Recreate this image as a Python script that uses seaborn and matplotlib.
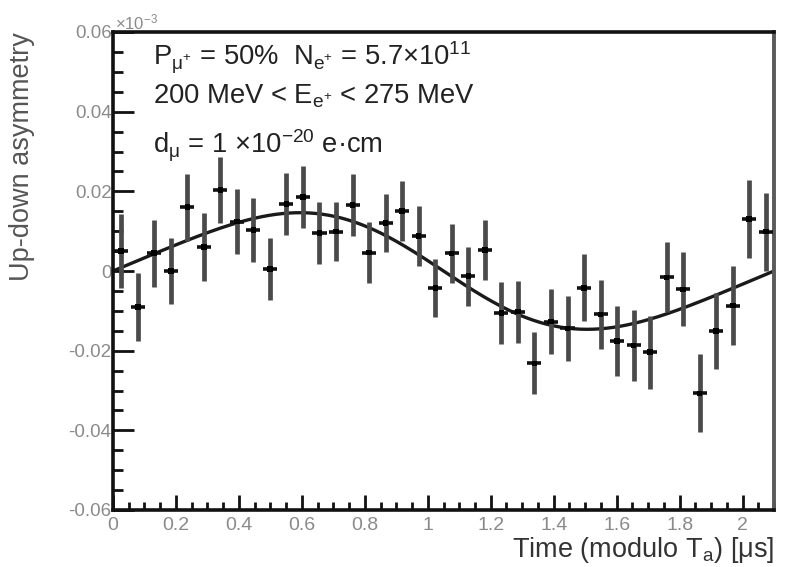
import numpy as np
import pandas as pd
import matplotlib
matplotlib.use("Agg")
import matplotlib.pyplot as plt
import seaborn as sns
from matplotlib.ticker import MultipleLocator

# ---- data ----
time_us = [0.026, 0.079, 0.131, 0.184, 0.236, 0.289, 0.341, 0.394, 0.446, 0.499,
           0.551, 0.604, 0.656, 0.709, 0.761, 0.814, 0.866, 0.919, 0.971, 1.024,
           1.076, 1.129, 1.181, 1.234, 1.286, 1.339, 1.391, 1.444, 1.496, 1.549,
           1.601, 1.654, 1.706, 1.759, 1.811, 1.864, 1.916, 1.969, 2.021, 2.074]
asym = [0.005, -0.009, 0.0045, 0.0, 0.016, 0.006, 0.0203, 0.0124, 0.0103, 0.0005,
        0.0168, 0.0186, 0.0095, 0.0099, 0.0166, 0.0046, 0.012, 0.0151, 0.0088, -0.0043,
        0.0044, -0.0013, 0.0053, -0.0106, -0.0102, -0.0232, -0.0127, -0.0144, -0.0042, -0.0109,
        -0.0176, -0.0187, -0.0204, -0.0016, -0.0046, -0.0307, -0.015, -0.0087, 0.0131, 0.0099]
asym_err = [0.0093, 0.0086, 0.0084, 0.0084, 0.0084, 0.0086, 0.0082, 0.0082, 0.0080, 0.0078,
            0.0078, 0.0078, 0.0078, 0.0075, 0.0077, 0.0076, 0.0073, 0.0075, 0.0075, 0.0073,
            0.0073, 0.0074, 0.0076, 0.0078, 0.0078, 0.0078, 0.0082, 0.0082, 0.0084, 0.0087,
            0.0088, 0.0088, 0.0091, 0.0088, 0.0093, 0.0098, 0.0095, 0.0100, 0.0098, 0.0098]
bin_half_width = 0.02625

# fitted oscillation parameters (fundamental + small second harmonic)
fit_amp_1 = 0.0143
fit_amp_2 = -0.0016
fit_period = 2.1

x_min, x_max = 0.0, 2.1
y_min, y_max = -0.06, 0.06
x_ticks = [0, 0.2, 0.4, 0.6, 0.8, 1.0, 1.2, 1.4, 1.6, 1.8, 2.0]
x_tick_labels = ["0", "0.2", "0.4", "0.6", "0.8", "1", "1.2", "1.4", "1.6", "1.8", "2"]
y_ticks = [-0.06, -0.04, -0.02, 0, 0.02, 0.04, 0.06]
y_tick_labels = ["-0.06", "-0.04", "-0.02", "0", "0.02", "0.04", "0.06"]

# ---- style ----
sns.set_theme(style="white")
plt.rcParams["font.family"] = ["Liberation Sans", "DejaVu Sans"]
plt.rcParams["mathtext.fontset"] = "custom"
plt.rcParams["mathtext.rm"] = "Liberation Sans"
plt.rcParams["mathtext.it"] = "Liberation Sans:italic"
plt.rcParams["mathtext.bf"] = "Liberation Sans:bold"
plt.rcParams["axes.unicode_minus"] = False

fig = plt.figure(figsize=(7.89, 5.67), dpi=100)
ax = fig.add_axes([113 / 789, 1 - 510 / 567, (774 - 113) / 789, (510 - 32) / 567])

# fit curve
curve_t = np.linspace(x_min, x_max, 400)
omega = 2 * np.pi / fit_period
curve_df = pd.DataFrame({"t": curve_t,
                         "a": fit_amp_1 * np.sin(omega * curve_t) + fit_amp_2 * np.sin(2 * omega * curve_t)})
sns.lineplot(data=curve_df, x="t", y="a", ax=ax, color="#1a1a1a", linewidth=2.4, zorder=2)

# data points
df = pd.DataFrame({"t": time_us, "a": asym, "e": asym_err})
ax.errorbar(df["t"], df["a"], yerr=df["e"], fmt="none", ecolor="#4a4a4a",
            elinewidth=3.4, capsize=0, zorder=3)
ax.errorbar(df["t"], df["a"], xerr=bin_half_width * 0.85, fmt="none", ecolor="#111111",
            elinewidth=2.6, capsize=0, zorder=4)
sns.scatterplot(data=df, x="t", y="a", ax=ax, marker="s", s=16, color="#000000",
                edgecolor="none", zorder=5)

ax.set_xlim(x_min, x_max)
ax.set_ylim(y_min, y_max)

ax.set_xticks(x_ticks)
ax.set_xticklabels(x_tick_labels)
ax.set_yticks(y_ticks)
ax.set_yticklabels(y_tick_labels)
ax.xaxis.set_minor_locator(MultipleLocator(0.05))
ax.yaxis.set_minor_locator(MultipleLocator(0.005))

ax.tick_params(axis="y", which="major", direction="in", length=15, width=2.0,
               color="#111111", labelsize=13.5, labelcolor="#8a8a8a", pad=1, left=True, right=False)
ax.tick_params(axis="y", which="minor", direction="in", length=7, width=2.0,
               color="#111111", left=True, right=False)
ax.tick_params(axis="x", which="major", direction="in", length=11, width=2.0,
               color="#111111", labelsize=14, labelcolor="#8a8a8a", pad=5, bottom=True, top=False)
ax.tick_params(axis="x", which="minor", direction="in", length=5.5, width=2.0,
               color="#111111", bottom=True, top=False)

for side in ["left", "bottom", "top"]:
    ax.spines[side].set_color("#111111")
    ax.spines[side].set_linewidth(2.6)
ax.spines["right"].set_color("#5a5a5a")
ax.spines["right"].set_linewidth(2.8)

ax.set_xlabel(r"Time (modulo $\mathregular{T_{a}}$) [μs]", fontsize=19.5, color="#333333", loc="right")
ax.set_ylabel("Up-down asymmetry", fontsize=19.5, color="#555555", loc="top")
ax.yaxis.set_label_coords(-0.118, 1.0)
ax.xaxis.set_label_coords(1.0, -0.052)

# exponent marker
ax.text(0.003, 1.0, r"$\mathregular{\times10^{-3}}$", transform=ax.transAxes,
        fontsize=12, color="#8a8a8a", ha="left", va="bottom")

# annotation lines
txt_kw = dict(transform=ax.transAxes, fontsize=19.7, color="#222222", ha="left", va="baseline")
ax.text((153 - 113) / 661, (510 - 65) / 478,
        r"$\mathregular{P_{\mu^{+}}}$ = 50%  $\mathregular{N_{e^{+}}}$ = 5.7$\mathregular{\times10^{11}}$", **txt_kw)
ax.text((153 - 113) / 661, (510 - 104) / 478,
        r"200 MeV < $\mathregular{E_{e^{+}}}$ < 275 MeV", **txt_kw)
ax.text((153 - 113) / 661, (510 - 153) / 478,
        r"$\mathregular{d_{\mu}}$ = 1 $\mathregular{\times10^{-20}}$ e·cm", **txt_kw)

fig.savefig("out.png", dpi=100)
